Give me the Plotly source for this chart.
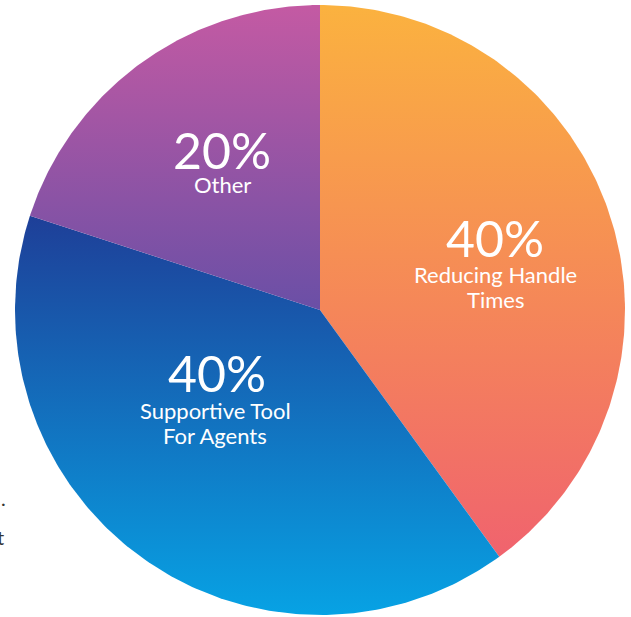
import numpy as np
import plotly.graph_objects as go

labels = ["Reducing Handle<br>Times", "Supportive Tool<br>For Agents", "Other"]
values = [40, 40, 20]
top_colors = ["#FBB23F", "#1E3F98", "#C45AA3"]
bottom_colors = ["#F0636E", "#07A2E4", "#6A4FA6"]

# label anchor positions (data units, radius = 1)
pct_pos = [(0.574, 0.236), (-0.338, -0.207), (-0.321, 0.525)]
lab_pos = [(0.574, 0.118), (-0.344, -0.328), (-0.321, 0.410)]

fig = go.Figure()
total = sum(values)
start = 0.0
for i, v in enumerate(values):
    a0 = start / total * 2 * np.pi
    a1 = (start + v) / total * 2 * np.pi
    start += v
    t = np.linspace(a0, a1, 200)
    xs = np.concatenate([[0], np.sin(t), [0]])
    ys = np.concatenate([[0], np.cos(t), [0]])
    fig.add_trace(go.Scatter(
        x=xs, y=ys, mode="lines", fill="toself", line=dict(width=0),
        fillgradient=dict(type="vertical",
                          colorscale=[[0, bottom_colors[i]], [1, top_colors[i]]],
                          start=float(ys.min()), stop=float(ys.max())),
        hoverinfo="skip", showlegend=False))
    px_, py_ = pct_pos[i]
    fig.add_annotation(x=px_, y=py_, text=f"{v}%", showarrow=False,
                       font=dict(family="Lato", size=50, color="white"),
                       xanchor="center", yanchor="middle")
    lx, ly = lab_pos[i]
    for k, line in enumerate(labels[i].split("<br>")):
        fig.add_annotation(x=lx, y=ly - k * 25 / 305, text=line, showarrow=False,
                           font=dict(family="Lato", size=22, color="white"),
                           xanchor="center", yanchor="middle")

fig.add_annotation(xref="paper", yref="paper", x=0.0, y=1 - 512 / 617, text=".",
                   showarrow=False, xanchor="right", xshift=8,
                   font=dict(family="Lato", size=20, color="#333333"))
fig.add_annotation(xref="paper", yref="paper", x=0.0, y=1 - 551 / 617, text="t",
                   showarrow=False, xanchor="right", xshift=6,
                   font=dict(family="Lato", size=20, color="#333333"))

fig.update_layout(
    width=631, height=617, margin=dict(l=0, r=0, t=0, b=0),
    paper_bgcolor="white", plot_bgcolor="white",
    xaxis=dict(range=[-320 / 305, 311 / 305], visible=False, fixedrange=True),
    yaxis=dict(range=[-307 / 305, 310 / 305], visible=False, fixedrange=True),
)
fig.write_html("out.html")
